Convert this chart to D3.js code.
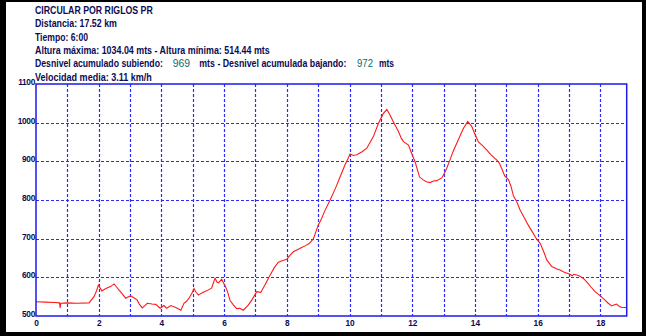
<!DOCTYPE html>
<html><head><meta charset="utf-8">
<script src="https://cdn.jsdelivr.net/npm/d3@7/dist/d3.min.js"></script>
<style>html,body{margin:0;padding:0;background:#000;}svg{display:block;}</style>
</head><body>
<script>
// ---- data ----
const dist = [0.00,0.30,0.60,0.75,0.77,0.79,1.00,1.30,1.69,1.85,1.93,1.99,2.10,2.20,2.28,2.38,2.49,2.57,2.65,2.75,2.86,2.95,3.02,3.12,3.23,3.30,3.39,3.47,3.55,3.70,3.82,3.96,4.08,4.17,4.30,4.46,4.62,4.72,4.80,4.88,4.98,5.04,5.10,5.18,5.30,5.44,5.60,5.66,5.71,5.77,5.82,5.92,6.03,6.10,6.19,6.30,6.40,6.50,6.61,6.77,6.88,7.04,7.17,7.30,7.46,7.60,7.73,7.85,8.00,8.10,8.21,8.35,8.47,8.60,8.72,8.85,9.00,9.11,9.20,9.38,9.55,9.70,9.85,10.02,10.12,10.23,10.40,10.55,10.65,10.76,10.92,11.08,11.19,11.29,11.38,11.45,11.56,11.65,11.72,11.88,11.98,12.09,12.16,12.23,12.35,12.45,12.57,12.68,12.78,12.94,13.03,13.10,13.20,13.30,13.42,13.53,13.63,13.77,13.90,14.00,14.11,14.25,14.38,14.50,14.60,14.70,14.78,14.86,14.95,15.07,15.15,15.23,15.33,15.44,15.57,15.70,15.85,15.96,16.08,16.20,16.29,16.45,16.60,16.71,16.85,17.03,17.10,17.15,17.25,17.35,17.46,17.60,17.70,17.83,18.00,18.15,18.25,18.36,18.45,18.52,18.60,18.68,18.84];
const elev = [537,536,535,534,521,533,534,533,534,550,565,580,565,570,573,576,583,575,567,557,546,550,552,547,541,530,521,527,533,531,530,520,527,520,527,522,515,533,538,546,560,571,562,554,560,565,572,586,598,588,586,595,578,565,540,528,519,520,515,528,541,563,561,580,605,625,639,643,647,657,666,672,677,682,688,700,735,752,770,800,830,860,890,919,915,917,925,934,948,964,998,1024,1034,1020,1005,994,977,960,951,942,921,899,880,860,852,847,845,849,850,857,870,882,903,925,947,967,985,1003,990,970,950,940,929,918,910,903,895,880,862,853,835,810,796,774,755,735,715,700,688,665,645,628,622,619,613,608,604,608,606,603,597,585,575,563,552,541,533,526,529,531,525,522,522];
const xTickLabels = [0,2,4,6,8,10,12,14,16,18];
const yTickLabels = [500,600,700,800,900,1000,1100];
const xGrid = [1,2,3,4,5,6,7,8,9,10,11,12,13,14,15,16,17,18];
const yGrid = [600,700,800,900,1000];
const infoLines = [
  "CIRCULAR POR RIGLOS PR",
  "Distancia: 17.52 km",
  "Tiempo: 6:00",
  "Altura máxima: 1034.04 mts - Altura mínima: 514.44 mts",
  null,
  "Velocidad media: 3.11 km/h"
];
const climbUp = "969", climbDown = "972";

// ---- layout ----
const W = 646, H = 336;
const L = 36, R = 626.7, T = 84, B = 316;
const svg = d3.select("body").append("svg").attr("width", W).attr("height", H);
svg.append("rect").attr("width", W).attr("height", H).attr("fill", "#000");
svg.append("rect").attr("x", 6).attr("y", 2).attr("width", 636).attr("height", 330).attr("fill", "#fff");

const x = d3.scaleLinear().domain([0, 18.84]).range([L, R]);
const y = d3.scaleLinear().domain([500, 1100]).range([B, T]);

const font = "'Liberation Sans', Arial, sans-serif";
const navy = "#0b0b55";

// condensed text helper: scale horizontally to fit measured width
function fitText(t, px, py, w, color, bold) {
  const el = svg.append("text").attr("x", 0).attr("y", 0).text(t)
    .attr("font-family", font).attr("font-size", 10).attr("font-weight", bold ? "bold" : "normal")
    .attr("fill", color);
  const nat = el.node().getComputedTextLength();
  const sx = w / nat;
  el.attr("transform", `translate(${px},${py}) scale(${sx},1)`);
}

const widths = [118, 82, 53, 235, null, 117];
const baseY = [14, 27.3, 40.7, 54, 67.4, 80.7];
infoLines.forEach((t, i) => {
  if (t === null) return;
  fitText(t, 35, baseY[i], widths[i], navy, true);
});
const l5 = [
  {t: "Desnivel acumulado subiendo:", x: 35, w: 128, c: navy, b: true},
  {t: climbUp, x: 172.7, w: 17.3, c: "#0a6a6a", b: false},
  {t: "mts - Desnivel acumulada bajando:", x: 199.3, w: 147.4, c: navy, b: true},
  {t: climbDown, x: 357, w: 16, c: "#0a6a6a", b: false},
  {t: "mts", x: 379, w: 15, c: navy, b: true}
];
l5.forEach(s => fitText(s.t, s.x, baseY[4], s.w, s.c, s.b));

// grid
const grid = svg.append("g");
grid.selectAll("line.v").data(xGrid).enter().append("line")
  .attr("x1", d => Math.round(x(d)) + 0.5).attr("x2", d => Math.round(x(d)) + 0.5)
  .attr("y1", T).attr("y2", B)
  .attr("stroke", "#2b2bff").attr("stroke-width", 1.2).attr("stroke-dasharray", "3,2");
grid.selectAll("line.h").data(yGrid).enter().append("line")
  .attr("y1", d => Math.round(y(d)) + 0.5).attr("y2", d => Math.round(y(d)) + 0.5)
  .attr("x1", L).attr("x2", R)
  .attr("stroke", "#2b2bff").attr("stroke-width", 1.2).attr("stroke-dasharray", "3,2");

// profile line
const pts = dist.map((d, i) => [d, elev[i]]);
svg.append("path").datum(pts)
  .attr("d", d3.line().x(d => x(d[0])).y(d => y(d[1])))
  .attr("fill", "none").attr("stroke", "#ff1a1a").attr("stroke-width", 1.1);

// border
svg.append("rect").attr("x", L).attr("y", T).attr("width", R - L).attr("height", B - T)
  .attr("fill", "none").attr("stroke", "#1a1aee").attr("stroke-width", 1.5);

// axes labels
const xAxis = d3.axisBottom(x).tickValues(xTickLabels).tickSize(0).tickPadding(0).tickFormat(d3.format("d"));
const gx = svg.append("g").attr("transform", `translate(0,${B})`).call(xAxis);
gx.select(".domain").remove();
gx.selectAll("text").attr("dy", null).attr("y", 9.5)
  .attr("font-family", font).attr("font-size", 8.3).attr("font-weight", "bold").attr("fill", navy);

const yAxis = d3.axisLeft(y).tickValues(yTickLabels).tickSize(0).tickPadding(0).tickFormat(d3.format("d"));
const gy = svg.append("g").attr("transform", `translate(35,0)`).call(yAxis);
gy.select(".domain").remove();
gy.selectAll("text").attr("dy", "0.05em").attr("x", 0)
  .attr("font-family", font).attr("font-size", 8.3).attr("font-weight", "bold").attr("fill", navy)
  .attr("letter-spacing", -0.3);
</script>
</body></html>
